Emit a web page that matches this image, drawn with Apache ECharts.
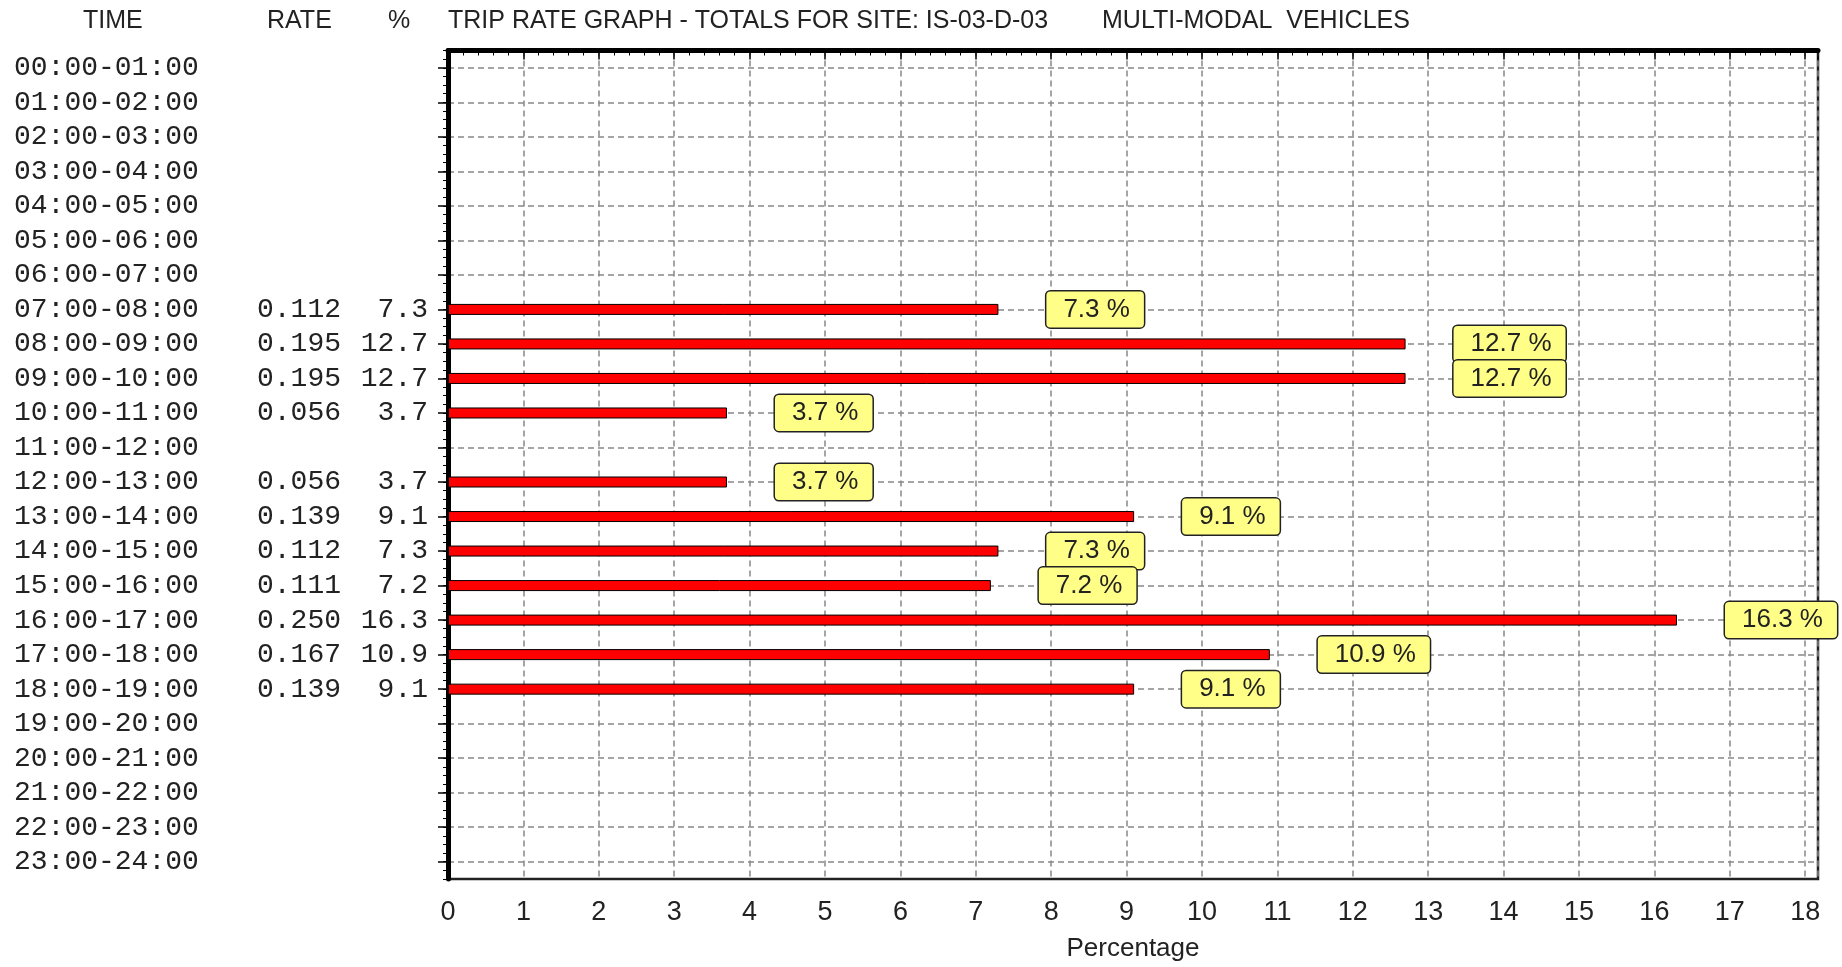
<!DOCTYPE html>
<html>
<head>
<meta charset="utf-8">
<script src="https://cdn.jsdelivr.net/npm/echarts@6/dist/echarts.min.js"></script>
<style>
html,body{margin:0;padding:0;background:#fff;}
#chart{width:1842px;height:967px;}
</style>
</head>
<body>
<div id="chart"></div>
<script>
// ---- Data ----
const timeSlots = [
  "00:00-01:00","01:00-02:00","02:00-03:00","03:00-04:00","04:00-05:00","05:00-06:00",
  "06:00-07:00","07:00-08:00","08:00-09:00","09:00-10:00","10:00-11:00","11:00-12:00",
  "12:00-13:00","13:00-14:00","14:00-15:00","15:00-16:00","16:00-17:00","17:00-18:00",
  "18:00-19:00","19:00-20:00","20:00-21:00","21:00-22:00","22:00-23:00","23:00-24:00"
];
const rates = [null,null,null,null,null,null,null,
  0.112,0.195,0.195,0.056,null,0.056,0.139,0.112,0.111,0.250,0.167,0.139,
  null,null,null,null,null];
const percents = [null,null,null,null,null,null,null,
  7.3,12.7,12.7,3.7,null,3.7,9.1,7.3,7.2,16.3,10.9,9.1,
  null,null,null,null,null];
const xTickLabels = ["0","1","2","3","4","5","6","7","8","9","10","11","12","13","14","15","16","17","18"];
const headerTime = "TIME";
const headerRate = "RATE";
const headerPct = "%";
const titleMain = "TRIP RATE GRAPH - TOTALS FOR SITE: IS-03-D-03";
const titleSub = "MULTI-MODAL  VEHICLES";
const xAxisName = "Percentage";

// ---- Chart ----
const chart = echarts.init(document.getElementById('chart'));
const headFont = {fontFamily: 'Liberation Sans', fontSize: 25, fontWeight: 'normal', color: '#222'};

const option = {
  animation: false,
  backgroundColor: '#ffffff',
  title: [
    {text: headerTime, left: 78, top: 4, textStyle: headFont},
    {text: headerRate, left: 262, top: 4, textStyle: headFont},
    {text: headerPct, left: 383, top: 4, textStyle: headFont},
    {text: titleMain, left: 443, top: 4, textStyle: headFont},
    {text: titleSub, left: 1097, top: 4, textStyle: headFont}
  ],
  grid: {
    left: 448, right: 24, top: 50.5, bottom: 85.5,
    show: true, borderColor: '#222', borderWidth: 2.5, backgroundColor: 'transparent'
  },
  xAxis: {
    type: 'value', min: 0, max: 18.17, interval: 1,
    name: xAxisName, nameLocation: 'middle', nameGap: 57,
    nameTextStyle: {fontFamily: 'Liberation Sans', fontSize: 26, color: '#222'},
    axisLine: {show: true, lineStyle: {color: '#000', width: 5}},
    axisTick: {show: true, length: 9, lineStyle: {color: '#000', width: 1.5}},
    minorTick: {show: true, splitNumber: 5, length: 5, lineStyle: {color: '#000', width: 1}},
    axisLabel: {
      margin: 20, fontFamily: 'Liberation Sans', fontSize: 27, color: '#222',
      formatter: function (v) {
        const i = Math.round(v);
        return Math.abs(v - i) < 1e-6 && xTickLabels[i] !== undefined ? xTickLabels[i] : '';
      }
    },
    splitLine: {show: true, lineStyle: {color: '#888', width: 1.5, type: [6, 4]}}
  },
  yAxis: [
    {
      type: 'category', data: timeSlots, inverse: true,
      axisLine: {show: true, lineStyle: {color: '#000', width: 5}},
      axisTick: {show: true, interval: 0, alignWithLabel: true, length: 10, lineStyle: {color: '#000', width: 1.5}},
      splitLine: {show: true, interval: 0, alignWithLabel: true, lineStyle: {color: '#888', width: 1.5, type: [6, 4]}},
      axisLabel: {
        interval: 0,
        margin: 20,
        fontFamily: 'Liberation Mono', fontSize: 28, color: '#222',
        formatter: function (val, idx) {
          const r = rates[idx] == null ? ' ' : rates[idx].toFixed(3);
          const p = percents[idx] == null ? ' ' : percents[idx].toFixed(1);
          return '{t|' + val + '}{r|' + r + '}{p|' + p + '}';
        },
        rich: {
          t: {width: 242, align: 'left', fontFamily: 'Liberation Mono', fontSize: 28, color: '#222'},
          r: {width: 85, align: 'right', fontFamily: 'Liberation Mono', fontSize: 28, color: '#222'},
          p: {width: 87, align: 'right', fontFamily: 'Liberation Mono', fontSize: 28, color: '#222'}
        }
      }
    },
    {
      type: 'value', min: 0, max: 24, interval: 0.25, inverse: true, position: 'left',
      axisLine: {show: false},
      axisTick: {show: true, length: 5, lineStyle: {color: '#000', width: 1}},
      axisLabel: {show: false},
      splitLine: {show: false}
    }
  ],
  series: [{
    type: 'bar',
    yAxisIndex: 0,
    data: percents,
    barWidth: 11,
    itemStyle: {color: '#ff0000', borderColor: '#000', borderWidth: 1},
    label: {
      show: true, position: 'right', distance: 48,
      formatter: function (p) { return p.value == null ? '' : p.value.toFixed(1) + ' %'; },
      fontFamily: 'Liberation Sans', fontSize: 26, color: '#222',
      backgroundColor: '#ffff88', borderColor: '#222', borderWidth: 1.5, borderRadius: 4,
      padding: [5, 14, 5, 17]
    }
  }]
};
chart.setOption(option);
</script>
</body>
</html>
